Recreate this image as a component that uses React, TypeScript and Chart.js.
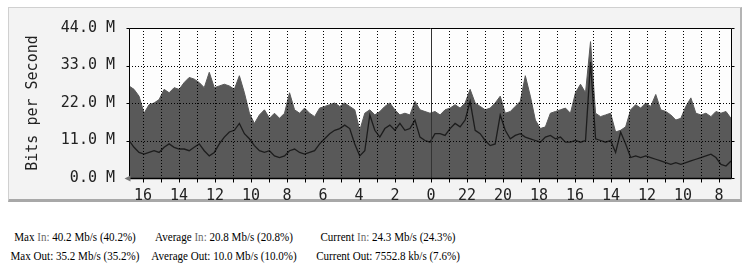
import React, { useEffect, useRef } from "react";
import { Chart, registerables } from "chart.js";

Chart.register(...registerables);

// Incoming traffic (Mb/s), sampled left → right across the plot
const IN_VALUES = [
  27, 26, 24, 19, 21.5, 22, 23, 26, 25, 26.5,
  26, 28, 29.5, 29, 28, 26.5, 31, 26.5, 27, 27.5,
  27, 26, 30, 25, 19, 16, 18.5, 20, 17.5, 19,
  17.5, 19, 25, 20, 19, 20.5, 19, 18, 20.5, 21,
  21.5, 22, 21, 22, 21, 20, 14, 19, 20, 18.5,
  19.5, 21, 22, 20, 18.5, 19, 18.5, 22.5, 20, 19.5,
  19, 19.5, 18.5, 20, 20.5, 21.5, 20.5, 22, 26, 22,
  21, 20, 20.5, 22, 24, 19, 19.5, 21, 22.5, 30,
  24, 17, 14.5, 15, 19, 19.5, 20, 20.5, 19, 25,
  27.5, 25, 40, 19, 18, 18.5, 19, 13.5, 14, 15,
  20, 21.5, 20.5, 22, 21, 24.5, 20, 19.5, 18.5, 17,
  17.5, 21, 23.5, 19, 18.5, 19, 18, 19.5, 19, 19.5,
  17.5,
];

// Outgoing traffic (Mb/s), same sampling
const OUT_VALUES = [
  11, 9, 7.5, 7, 7.5, 8, 7.5, 9, 10, 9,
  8.5, 8.5, 8, 9, 10, 8, 6.5, 7.5, 10, 12,
  13.5, 14, 16, 13, 11.5, 9.5, 8, 7.5, 8, 6.5,
  6, 6.5, 8, 8.5, 7.5, 7, 7.5, 8, 10, 11.5,
  13, 14, 14.5, 15.5, 14.5, 10, 6.5, 8, 18.5, 14,
  12, 14.5, 15.5, 14, 16, 14, 14.5, 17, 12, 11,
  10.5, 13, 13, 12.5, 14.5, 16, 15, 17, 22.5, 14,
  13, 11, 9.5, 10, 18.5, 14, 11.5, 12.5, 13, 12,
  11.5, 11, 10.5, 12, 12.5, 11.5, 12, 10.5, 10.5, 11,
  10.5, 11, 34, 11.5, 11, 10.5, 11, 7.5, 13.5, 10,
  6, 6.5, 6, 6.5, 6, 5.5, 5, 4.5, 4, 4.5,
  4, 4.5, 5, 5.5, 6, 6.5, 7, 6, 4, 3.5,
  5,
];

// Hour of each vertical grid line, left → right
const HOURS = [
  16, 15, 14, 13, 12, 11, 10, 9, 8, 7, 6, 5, 4, 3, 2, 1, 0,
  23, 22, 21, 20, 19, 18, 17, 16, 15, 14, 13, 12, 11, 10, 9, 8,
];

const Y_TICKS = [0, 11, 22, 33, 44];

const STAT_ROWS = [
  [
    { label: "Max", dir: "In", value: "40.2 Mb/s (40.2%)" },
    { label: "Average", dir: "In", value: "20.8 Mb/s (20.8%)" },
    { label: "Current", dir: "In", value: "24.3 Mb/s (24.3%)" },
  ],
  [
    { label: "Max", dir: "Out", value: "35.2 Mb/s (35.2%)" },
    { label: "Average", dir: "Out", value: "10.0 Mb/s (10.0%)" },
    { label: "Current", dir: "Out", value: "7552.8 kb/s (7.6%)" },
  ],
];

const FIRST_HOUR_POS = 0.778; // hours from left edge to first hour line
const SPAN_HOURS = 33.44;

const MONO = "'DejaVu Sans Mono', monospace";

const gridPlugin = {
  id: "mrtgGrid",
  beforeDatasetsDraw(chart: any) {
    const { ctx, chartArea: a } = chart;
    ctx.save();
    ctx.fillStyle = "#fdfdfd";
    ctx.fillRect(a.left, a.top, a.right - a.left, a.bottom - a.top);
    ctx.restore();
  },
  afterDatasetsDraw(chart: any) {
    const { ctx, chartArea: a } = chart;
    const x = chart.scales.x;
    const y = chart.scales.y;
    ctx.save();
    ctx.lineWidth = 1;
    ctx.strokeStyle = "#000";
    const line = (x1: number, y1: number, x2: number, y2: number) => {
      ctx.beginPath();
      ctx.moveTo(x1, y1);
      ctx.lineTo(x2, y2);
      ctx.stroke();
    };
    // dotted grid
    ctx.setLineDash([1, 2]);
    HOURS.forEach((h, k) => {
      if (h === 0) return;
      const px = Math.round(x.getPixelForValue(FIRST_HOUR_POS + k)) + 0.5;
      line(px, a.top, px, a.bottom);
    });
    Y_TICKS.forEach((v) => {
      if (v === Y_TICKS[0] || v === Y_TICKS[Y_TICKS.length - 1]) return;
      const py = Math.round(y.getPixelForValue(v)) + 0.5;
      line(a.left, py, a.right, py);
    });
    ctx.setLineDash([]);
    // midnight solid line
    HOURS.forEach((h, k) => {
      if (h !== 0) return;
      const px = Math.round(x.getPixelForValue(FIRST_HOUR_POS + k)) + 0.5;
      ctx.strokeStyle = "#333";
      line(px, a.top, px, a.bottom);
    });
    ctx.strokeStyle = "#000";
    // frame
    const L = Math.round(a.left) + 0.5;
    const R = Math.round(a.right) + 0.5;
    const T = Math.round(a.top) + 0.5;
    const B = Math.round(a.bottom) + 0.5;
    line(L, T, R, T);
    line(R, T, R, B);
    line(L, T, L, B);
    ctx.lineWidth = 1.5;
    line(L, B, R, B);
    ctx.lineWidth = 1;
    // hour tick marks
    HOURS.forEach((h, k) => {
      const px = Math.round(x.getPixelForValue(FIRST_HOUR_POS + k)) + 0.5;
      line(px, B, px, B + 4);
    });
    // y tick marks
    Y_TICKS.forEach((v) => {
      const py = Math.round(y.getPixelForValue(v)) + 0.5;
      line(L - 3, py, L, py);
      line(R, py, R + 3, py);
    });
    // arrow at origin
    ctx.fillStyle = "#777";
    ctx.beginPath();
    ctx.moveTo(L - 5, B);
    ctx.lineTo(L + 1, B - 3);
    ctx.lineTo(L + 1, B + 3);
    ctx.closePath();
    ctx.fill();
    ctx.restore();
  },
};

function TrafficChart() {
  const ref = useRef<HTMLCanvasElement | null>(null);
  useEffect(() => {
    if (!ref.current) return;
    const step = SPAN_HOURS / (IN_VALUES.length - 1);
    const inData = IN_VALUES.map((v, i) => ({ x: i * step, y: v }));
    const outData = OUT_VALUES.map((v, i) => ({ x: i * step, y: v }));
    const chart = new Chart(ref.current, {
      type: "line",
      data: {
        datasets: [
          {
            label: "Out",
            data: outData,
            borderColor: "#1c1c1c",
            borderWidth: 1.3,
            pointRadius: 0,
            fill: false,
            tension: 0,
          },
          {
            label: "In",
            data: inData,
            borderColor: "#595959",
            backgroundColor: "#595959",
            borderWidth: 1,
            pointRadius: 0,
            fill: "origin",
            tension: 0,
          },
        ],
      },
      options: {
        animation: false,
        responsive: false,
        maintainAspectRatio: false,
        layout: { padding: { left: 0, right: 14, top: 28, bottom: 0 } },
        plugins: {
          legend: { display: false },
          tooltip: { enabled: false },
        },
        scales: {
          x: {
            type: "linear",
            min: 0,
            max: SPAN_HOURS,
            grid: { display: false, drawTicks: false },
            border: { display: false },
            afterFit: (s: any) => {
              s.height = 32;
            },
            afterBuildTicks: (s: any) => {
              s.ticks = HOURS.map((h, k) => ({ value: FIRST_HOUR_POS + k, h }))
                .filter((t) => t.h % 2 === 0)
                .map((t) => ({ value: t.value }));
            },
            ticks: {
              autoSkip: false,
              maxRotation: 0,
              padding: 9,
              color: "#222",
              font: { family: MONO, size: 15 },
              callback: (v: any) => {
                const k = Math.round(Number(v) - FIRST_HOUR_POS);
                return String(HOURS[k]);
              },
            },
          },
          y: {
            min: Y_TICKS[0],
            max: Y_TICKS[Y_TICKS.length - 1],
            grid: { display: false, drawTicks: false },
            border: { display: false },
            afterFit: (s: any) => {
              s.width = 129;
            },
            afterBuildTicks: (s: any) => {
              s.ticks = Y_TICKS.map((v) => ({ value: v }));
            },
            ticks: {
              padding: 14,
              color: "#222",
              font: { family: MONO, size: 15 },
              callback: (v: any) => Number(v).toFixed(1) + " M",
            },
            title: {
              display: true,
              text: "Bits per Second",
              color: "#222",
              font: { family: MONO, size: 15 },
              padding: { top: 24, bottom: 0 },
            },
          },
        },
      },
      plugins: [gridPlugin],
    });
    return () => chart.destroy();
  }, []);
  return (
    <canvas
      ref={ref}
      width={745}
      height={210}
      style={{ position: "absolute", left: 0, top: 0, width: 745, height: 210 }}
    />
  );
}

const COL_CENTERS = [75, 224, 388];

export default function App() {
  return (
    <div
      style={{
        position: "fixed",
        left: 0,
        top: 0,
        width: 745,
        height: 266,
        background: "#ffffff",
        overflow: "hidden",
      }}
    >
      <div
        style={{
          position: "absolute",
          left: 8,
          top: 7,
          width: 731,
          height: 191,
          background: "#f3f3f3",
          border: "1px solid #d0d0d0",
          borderRight: "2px solid #b4b4b4",
          borderBottom: "3px solid #a8a8a8",
        }}
      />
      <TrafficChart />
      {STAT_ROWS.map((row, r) =>
        row.map((c, i) => (
          <div
            key={r + "-" + i}
            style={{
              position: "absolute",
              left: COL_CENTERS[i],
              top: 229 + r * 19,
              transform: "translateX(-50%) scaleX(0.85)",
              whiteSpace: "nowrap",
              fontFamily: "'Liberation Serif', serif",
              fontSize: 13,
              lineHeight: "16px",
              color: "#000",
            }}
          >
            {c.label}{" "}
            <span style={{ color: c.dir === "In" ? "#6a6a6a" : "#000" }}>{c.dir}:</span>{" "}
            {c.value}
          </div>
        ))
      )}
    </div>
  );
}
